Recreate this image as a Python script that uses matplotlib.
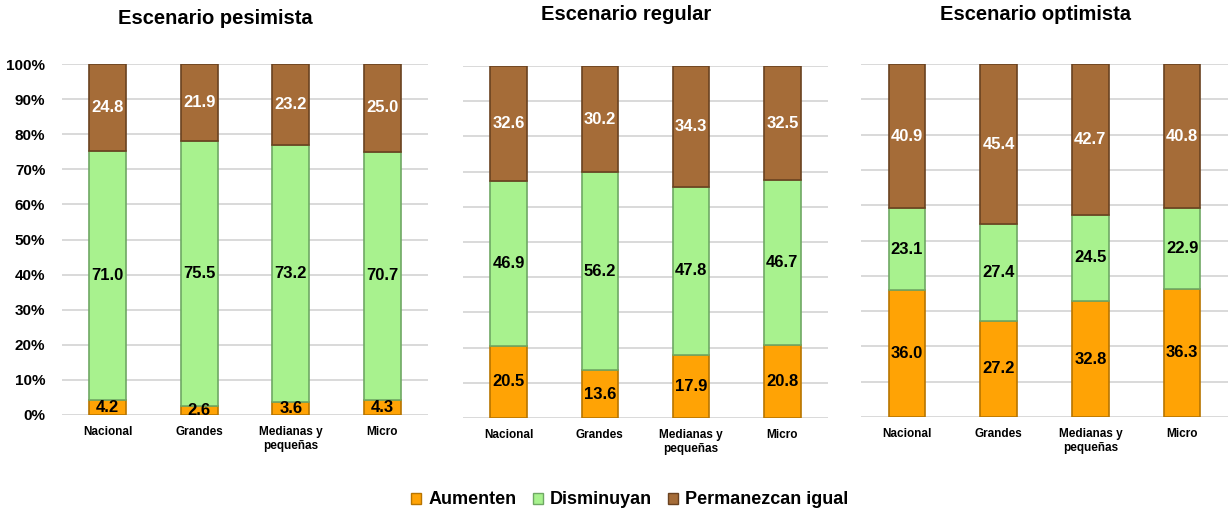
import matplotlib
matplotlib.use("Agg")
import matplotlib.pyplot as plt
from matplotlib.patches import Patch

plt.rcParams['font.family'] = ['Liberation Sans', 'DejaVu Sans']
plt.rcParams['font.weight'] = 'bold'

categories = ["Nacional", "Grandes", "Medianas y\npequeñas", "Micro"]
series_names = ["Aumenten", "Disminuyan", "Permanezcan igual"]
titles = ["Escenario pesimista", "Escenario regular", "Escenario optimista"]

pes_aumenten = [4.2, 2.6, 3.6, 4.3]
pes_disminuyan = [71.0, 75.5, 73.2, 70.7]
pes_igual = [24.8, 21.9, 23.2, 25.0]

reg_aumenten = [20.5, 13.6, 17.9, 20.8]
reg_disminuyan = [46.9, 56.2, 47.8, 46.7]
reg_igual = [32.6, 30.2, 34.3, 32.5]

opt_aumenten = [36.0, 27.2, 32.8, 36.3]
opt_disminuyan = [23.1, 27.4, 24.5, 22.9]
opt_igual = [40.9, 45.4, 42.7, 40.8]

yticks = list(range(0, 101, 10))
ytick_labels = [f"{v}%" for v in yticks]

scenarios = [
    (pes_aumenten, pes_disminuyan, pes_igual),
    (reg_aumenten, reg_disminuyan, reg_igual),
    (opt_aumenten, opt_disminuyan, opt_igual),
]

face_colors = ["#FFA305", "#A8F28E", "#A56C38"]
edge_colors = ["#B87500", "#6FA864", "#6A4220"]
label_colors = ["black", "black", "white"]

W, H = 1230, 512
fig = plt.figure(figsize=(W / 100, H / 100), dpi=100)

# axes rectangles in pixels: (left, top, right, bottom)
rects = [(62, 64, 428, 415), (463, 66, 828, 418), (861, 64, 1228, 417)]
title_pos = [(215, 19), (626, 14), (1036, 15)]

x = list(range(len(categories)))
for i, (ser, rect) in enumerate(zip(scenarios, rects)):
    l, t, r, b = rect
    ax = fig.add_axes([l / W, 1 - b / H, (r - l) / W, (b - t) / H])
    bottom = [0.0] * len(categories)
    for k, vals in enumerate(ser):
        ax.bar(x, vals, width=0.4, bottom=bottom, color=face_colors[k],
               edgecolor=edge_colors[k], linewidth=1.2, zorder=3)
        for xi, v, b0 in zip(x, vals, bottom):
            ax.text(xi, b0 + v / 2, f"{v:.1f}", ha="center", va="center",
                    fontsize=12, fontweight="bold", color=label_colors[k], zorder=4)
        bottom = [b0 + v for b0, v in zip(bottom, vals)]
    ax.set_xlim(-0.5, 3.5)
    ax.set_ylim(0, 100)
    ax.set_yticks(yticks)
    ax.yaxis.grid(True, color="#D9D9D9", linewidth=1.4, zorder=0)
    ax.set_axisbelow(True)
    for s in ax.spines.values():
        s.set_visible(False)
    ax.set_xticks(x)
    ax.set_xticklabels(categories, fontsize=8.5, fontweight="bold", linespacing=1.25)
    ax.tick_params(axis="both", length=0)
    ax.tick_params(axis="x", pad=8)
    if i == 0:
        ax.set_yticklabels(ytick_labels, fontsize=11, fontweight="bold")
        ax.tick_params(axis="y", pad=12)
    else:
        ax.set_yticklabels([])
    tx, ty = title_pos[i]
    fig.text(tx / W, 1 - ty / H, titles[i], ha="center", va="center",
             fontsize=14.5, fontweight="bold")

handles = [Patch(facecolor=face_colors[k], edgecolor=edge_colors[k], linewidth=1)
           for k in range(3)]
fig.legend(handles, series_names, loc="center", bbox_to_anchor=(630 / W, 1 - 500 / H),
           ncol=3, frameon=False, handlelength=0.55, handleheight=0.55,
           handletextpad=0.4, columnspacing=0.9, prop={"weight": "bold", "size": 13})

fig.savefig("out.png", dpi=100, facecolor="white")
